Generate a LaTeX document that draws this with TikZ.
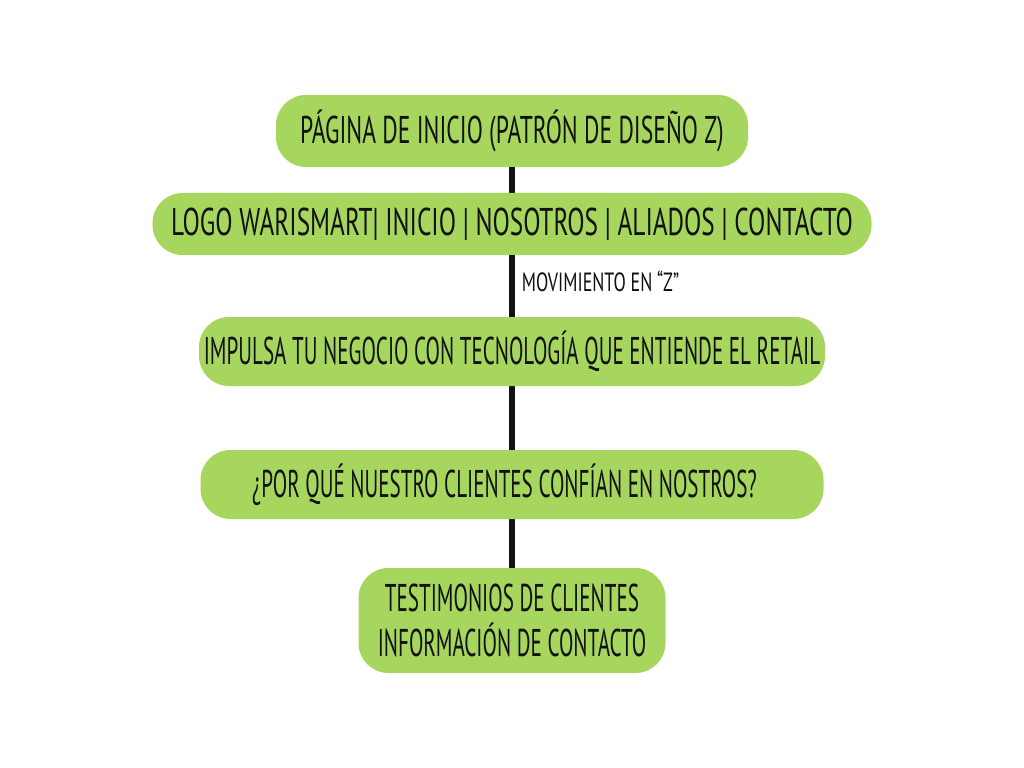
\documentclass[tikz,border=0pt]{standalone}
\usepackage{fontspec}
\setmainfont{PT Sans}[FakeStretch=0.545]
\usepackage{graphicx}
\usepackage{xcolor}
\usepackage{tikz}
\usetikzlibrary{
  positioning,
  backgrounds
}
\definecolor{pagegreen}{HTML}{A6D65D}
\definecolor{inkblack}{HTML}{111111}

\begin{document}
\begin{tikzpicture}[
  font=\fontsize{22}{27}\selectfont,
  step box/.style={
    rectangle, rounded corners=0.6cm,
    draw=none, fill=pagegreen,
    text=inkblack, align=center,
    inner sep=0pt, outer sep=0pt
  },
  zline/.style={line width=0.12cm, inkblack},
]

% Title
\node[step box, minimum width=9.44cm, minimum height=1.44cm] (title) at (10.24,-2.62)
  {\scalebox{1.12}[1]{PÁGINA DE INICIO (PATRÓN DE DISEÑO Z)}};

% Menu bar
\node[step box, minimum width=14.38cm, minimum height=1.24cm,
  below=0.52cm of title] (menu)
  {\scalebox{1.2}[1]{LOGO WARISMART| INICIO | NOSOTROS | ALIADOS | CONTACTO}};

% Hero
\node[step box, minimum width=12.52cm, minimum height=1.38cm,
  below=1.24cm of menu] (hero)
  {IMPULSA TU NEGOCIO CON TECNOLOGÍA QUE ENTIENDE EL RETAIL};

% Why us
\node[step box, minimum width=12.46cm, minimum height=1.38cm,
  below=1.28cm of hero] (why)
  {\hspace*{-0.3cm}¿POR QUÉ NUESTRO CLIENTES CONFÍAN EN NOSTROS?};

% Footer
\node[step box, minimum width=6.14cm, minimum height=2.10cm,
  below=0.98cm of why] (footer)
  {TESTIMONIOS DE CLIENTES\\[-0.05cm]INFORMACIÓN DE CONTACTO};

% Z movement line
\begin{scope}[on background layer]
  \path[fill=white] (0,0) rectangle (20.48,-15.36);
  \draw[zline] (title) -- (menu);
  \draw[zline] (menu) -- (hero)
    node[pos=0.42, right=0.02cm, font=\fontsize{15}{18}\selectfont]
    {\scalebox{1.25}[1]{MOVIMIENTO EN “Z”}};
  \draw[zline] (hero) -- (why);
  \draw[zline] (why) -- (footer);
\end{scope}

% page frame
\useasboundingbox (0,0) rectangle (20.48,-15.36);

\end{tikzpicture}
\end{document}
